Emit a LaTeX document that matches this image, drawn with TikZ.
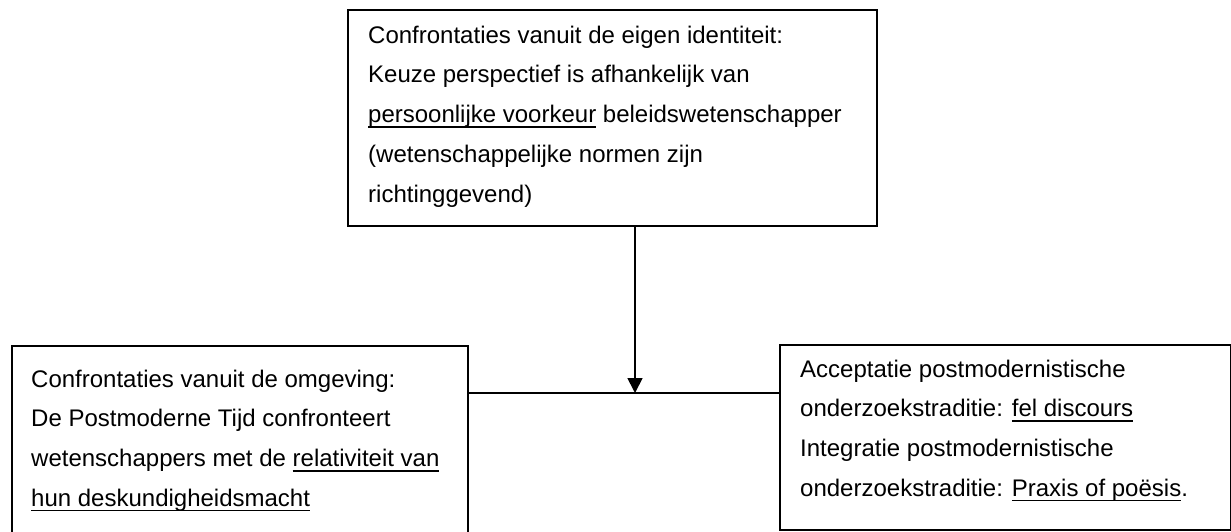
\documentclass[tikz,border=0pt]{standalone}
\usepackage{fontspec}
\setmainfont{Liberation Sans}
\usetikzlibrary{arrows.meta}
\newcommand\ulx[1]{\setbox0\hbox{#1}\rlap{\rule[-5pt]{\wd0}{1.8pt}}\box0\relax}
\newcommand\topstrut{\rule{0pt}{20pt}}
\tikzset{
  box/.style={draw=black, line width=1.6pt, rectangle, inner sep=0pt, anchor=north west},
  txt/.style={anchor=north west, inner sep=0pt, align=left, text=black,
    font=\fontsize{24pt}{39.7pt}\selectfont},
  conn/.style={draw=black, line width=1.8pt},
}
\begin{document}
\begin{tikzpicture}[x=1pt,y=-1pt]
\useasboundingbox (0,0) rectangle (1231,531);
\clip (0,0) rectangle (1231,531);
% boxes
\node[box, minimum width=529pt, minimum height=216pt] (top) at (347,9) {};
\node[box, minimum width=456pt, minimum height=200pt] (left) at (11,345) {};
\node[box, minimum width=451pt, minimum height=185pt] (right) at (779,344) {};
% texts
\node[txt] (toptxt) at (368,23) {\topstrut Confrontaties vanuit de eigen identiteit:\\
Keuze perspectief is afhankelijk van\\
\ulx{persoonlijke voorkeur} beleidswetenschapper\\
(wetenschappelijke normen zijn\\
richtinggevend)};
\node[txt] (lefttxt) at (31,367) {\topstrut Confrontaties vanuit de omgeving:\\
De Postmoderne Tijd confronteert\\
wetenschappers met de \ulx{relativiteit van}\\
\ulx{hun deskundigheidsmacht}};
\node[txt] (righttxt) at (800,357) {\topstrut Acceptatie postmodernistische\\
onderzoekstraditie: \ulx{fel discours}\\
Integratie postmodernistische\\
onderzoekstraditie: \ulx{Praxis of poësis}.};
% connectors
\coordinate (j) at (635,393);
\draw[conn] (left.east |- j) -- (right.west |- j);
\draw[conn, -{Triangle[length=15pt,width=15pt]}] (top.south -| j) -- (j);
\end{tikzpicture}
\end{document}
